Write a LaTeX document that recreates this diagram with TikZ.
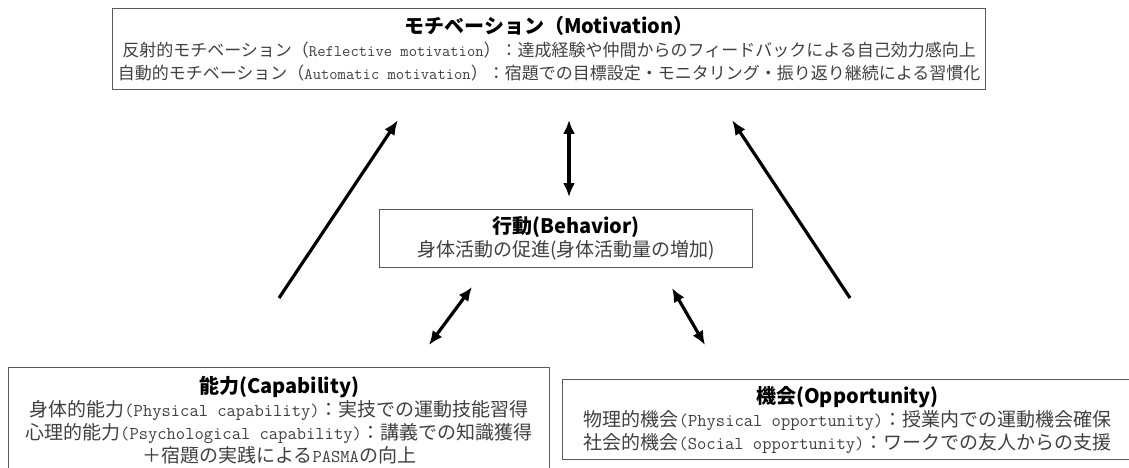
\documentclass[tikz,border=0pt]{standalone}
\usepackage{fontspec}
\setmainfont{Noto Sans CJK JP}
\setmonofont[Scale=0.95]{Latin Modern Mono}
\usepackage{tikz}
\usetikzlibrary{arrows.meta}
\definecolor{rim}{gray}{0.35}
\definecolor{ink}{gray}{0.25}
\newcommand{\hd}{\bfseries\color{black}\fontsize{20}{24}\selectfont}
\newcommand{\en}[1]{{\ttfamily #1}}

\begin{document}
\begin{tikzpicture}[x=1pt,y=-1pt,
    box/.style={draw=rim, line width=1.1pt, anchor=north west, align=center, inner sep=0pt, text=ink},
    arr/.style={line width=3.2pt, -{Latex[length=15pt,width=12pt]}},
    dbl/.style={line width=3.2pt, {Latex[length=14pt,width=12pt]}-{Latex[length=14pt,width=12pt]}}]
    \useasboundingbox (0,0) rectangle (1129,468);

    \node[box, minimum width=873pt, minimum height=81pt, font=\fontsize{17}{23}\selectfont] (moti) at (112,8)
        {{\hd モチベーション（Motivation）}\\
         反射的モチベーション（\en{Reflective motivation}）：達成経験や仲間からのフィードバックによる自己効力感向上\\
         自動的モチベーション（\en{Automatic motivation}）：宿題での目標設定・モニタリング・振り返り継続による習慣化};
    \node[box, minimum width=373pt, minimum height=58pt, font=\fontsize{19}{23}\selectfont] (beh) at (379,209)
        {{\hd 行動(Behavior)}\\
         身体活動の促進(身体活動量の増加)};
    \node[box, minimum width=541pt, minimum height=105pt, font=\fontsize{19}{23}\selectfont] (capa) at (8,367)
        {{\hd 能力(Capability)}\\
         身体的能力\en{(Physical capability)}：実技での運動技能習得\\
         心理的能力\en{(Psychological capability)}：講義での知識獲得\\
         ＋宿題の実践による\en{PASMA}の向上};
    \node[box, minimum width=570pt, minimum height=80pt, font=\fontsize{19}{23}\selectfont] (oppo) at (562,379)
        {{\hd 機会(Opportunity)}\\
         物理的機会\en{(Physical opportunity)}：授業内での運動機会確保\\
         社会的機会\en{(Social opportunity)}：ワークでの友人からの支援};

    % arrow ends
    \coordinate (lo) at (279,298);
    \coordinate (lt) at (398,120);
    \coordinate (ro) at (850,298);
    \coordinate (rt) at (732,120);
    \coordinate (mt) at (569,120);
    \coordinate (mb) at (569,197);
    \coordinate (ca) at (429,345);
    \coordinate (cb) at (472,287);
    \coordinate (oa) at (672,288);
    \coordinate (ob) at (705,345);

    \draw[arr] (lo) -- (lt);
    \draw[arr] (ro) -- (rt);
    \draw[dbl] (mt) -- (mb);
    \draw[dbl] (ca) -- (cb);
    \draw[dbl] (oa) -- (ob);
\end{tikzpicture}
\end{document}
